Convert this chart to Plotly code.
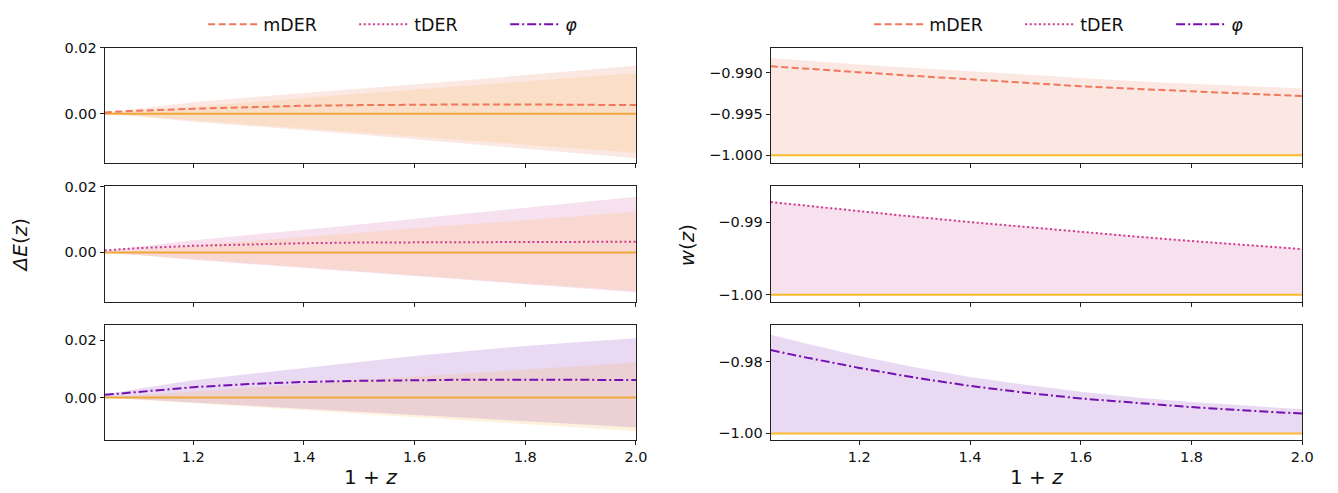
import plotly.graph_objects as go
from plotly.subplots import make_subplots

# ---------------- data ----------------
x_grid = [1.04, 1.1, 1.2, 1.3, 1.4, 1.5, 1.6, 1.7, 1.8, 1.9, 2.0]

# Delta E(z)
lcdm_hi = [0.0, 0.0008, 0.0022, 0.0035, 0.0048, 0.0060, 0.0073, 0.0085, 0.0098, 0.0110, 0.0123]
lcdm_lo = [0.0, -0.0008, -0.0021, -0.0033, -0.0045, -0.0057, -0.0069, -0.0081, -0.0094, -0.0106, -0.0118]
lcdm_dE = [0.0] * 11

dE_mDER = [0.0004, 0.0009, 0.0015, 0.0020, 0.0024, 0.0026, 0.0028, 0.0028, 0.0028, 0.0027, 0.0026]
dE_mDER_hi = [0.0004, 0.0016, 0.0035, 0.0049, 0.0062, 0.0075, 0.0088, 0.0102, 0.0117, 0.0131, 0.0145]
dE_mDER_lo = [0.0, -0.0008, -0.0024, -0.0037, -0.0050, -0.0063, -0.0077, -0.0091, -0.0106, -0.0120, -0.0135]

dE_tDER = [0.0006, 0.0013, 0.0020, 0.0025, 0.0028, 0.0030, 0.0031, 0.0032, 0.0032, 0.0032, 0.0032]
dE_tDER_hi = [0.0005, 0.0017, 0.0037, 0.0053, 0.0068, 0.0085, 0.0102, 0.0119, 0.0136, 0.0152, 0.0169]
dE_tDER_lo = [0.0, -0.0008, -0.0022, -0.0035, -0.0047, -0.0060, -0.0072, -0.0085, -0.0097, -0.0109, -0.0121]

dE_phi = [0.0009, 0.0020, 0.0036, 0.0047, 0.0054, 0.0058, 0.0061, 0.0062, 0.0062, 0.0062, 0.0061]
dE_phi_hi = [0.0010, 0.0030, 0.0060, 0.0082, 0.0102, 0.0124, 0.0145, 0.0163, 0.0180, 0.0194, 0.0207]
dE_phi_lo = [0.0, -0.0006, -0.0018, -0.0029, -0.0040, -0.0051, -0.0062, -0.0073, -0.0084, -0.0094, -0.0105]

# w(z)
w_lcdm = [-1.0] * 11
w_mDER = [-0.98921, -0.98950, -0.98996, -0.99038, -0.99079, -0.99121, -0.99163, -0.99195, -0.99226, -0.99255, -0.99282]
w_mDER_hi = [-0.98821, -0.98852, -0.98898, -0.98941, -0.98983, -0.99026, -0.99068, -0.99101, -0.99133, -0.99162, -0.99190]
w_mDER_lo = [-1.0] * 11

w_tDER = [-0.98720, -0.98769, -0.98848, -0.98924, -0.98997, -0.99067, -0.99134, -0.99198, -0.99259, -0.99317, -0.99370]
w_tDER_hi = [-0.98712, -0.98761, -0.98840, -0.98916, -0.98989, -0.99059, -0.99126, -0.99190, -0.99251, -0.99309, -0.99362]
w_tDER_lo = [-1.0] * 11

w_phi = [-0.97685, -0.97880, -0.98180, -0.98450, -0.98680, -0.98870, -0.99030, -0.99160, -0.99270, -0.99365, -0.99450]
w_phi_hi = [-0.9726, -0.9749, -0.9785, -0.9816, -0.9843, -0.9865, -0.9884, -0.9900, -0.9913, -0.9924, -0.9933]
w_phi_lo = [-1.0] * 11

model_names = ["mDER", "tDER", "<i>φ</i>"]

x_ticks = [1.2, 1.4, 1.6, 1.8, 2.0]
x_ticktext = ["1.2", "1.4", "1.6", "1.8", "2.0"]
y_ticks_left = [[0.0, 0.02], [0.0, 0.02], [0.0, 0.02]]
y_ticktext_left = [["0.00", "0.02"], ["0.00", "0.02"], ["0.00", "0.02"]]
y_ticks_right = [[-1.0, -0.995, -0.99], [-1.0, -0.99], [-1.0, -0.98]]
y_ticktext_right = [["−1.000", "−0.995", "−0.990"], ["−1.00", "−0.99"], ["−1.00", "−0.98"]]

# ---------------- style ----------------
FONT = "DejaVu Sans"
line_colors = ["#F0775A", "#D0388C", "#7410B0"]
fill_colors = ["rgba(240,119,90,0.17)", "rgba(208,56,140,0.15)", "rgba(116,16,176,0.16)"]
dashes = ["7px,3.5px", "2px,2.6px", "9px,3px,2px,3px"]
lcdm_fill = "rgba(245,170,40,0.15)"
lcdm_line_left = "#F0A73A"
lcdm_line_right = "#FBBA2C"

W, H = 1338, 493
left_x = (105.7 / W, 641.7 / W)
right_x = (777.7 / W, 1314.0 / W)
row_px = [(40.3, 157.7), (181.8, 299.0), (322.7, 440.0)]
row_dom = [(1 - b / H, 1 - t / H) for (t, b) in row_px]

y_ranges_left = [[-0.01485, 0.02], [-0.0149, 0.02], [-0.01486, 0.02538]]
y_ranges_right = [[-1.00091, -0.98694], [-1.00095, -0.98505], [-1.00183, -0.96982]]

fig = make_subplots(rows=3, cols=2)

left_data = [(dE_mDER, dE_mDER_hi, dE_mDER_lo), (dE_tDER, dE_tDER_hi, dE_tDER_lo), (dE_phi, dE_phi_hi, dE_phi_lo)]
right_data = [(w_mDER, w_mDER_hi, w_mDER_lo), (w_tDER, w_tDER_hi, w_tDER_lo), (w_phi, w_phi_hi, w_phi_lo)]


def band(hi, lo, color, row, col):
    fig.add_trace(go.Scatter(x=x_grid + x_grid[::-1], y=hi + lo[::-1], fill="toself",
                             fillcolor=color, line=dict(width=0), mode="lines",
                             hoverinfo="skip", showlegend=False), row=row, col=col)


for i in range(3):
    r = i + 1
    # left column
    y, hi, lo = left_data[i]
    band(hi, lo, fill_colors[i], r, 1)
    band(lcdm_hi, lcdm_lo, lcdm_fill, r, 1)
    fig.add_trace(go.Scatter(x=x_grid, y=lcdm_dE, mode="lines",
                             line=dict(color=lcdm_line_left, width=2), showlegend=False), row=r, col=1)
    fig.add_trace(go.Scatter(x=x_grid, y=y, mode="lines", name=model_names[i],
                             line=dict(color=line_colors[i], width=2, dash=dashes[i]),
                             legend="legend", showlegend=True), row=r, col=1)
    # right column
    y, hi, lo = right_data[i]
    band(hi, lo, fill_colors[i], r, 2)
    fig.add_trace(go.Scatter(x=x_grid, y=w_lcdm, mode="lines",
                             line=dict(color=lcdm_line_right, width=2), showlegend=False), row=r, col=2)
    fig.add_trace(go.Scatter(x=x_grid, y=y, mode="lines", name=model_names[i],
                             line=dict(color=line_colors[i], width=2, dash=dashes[i]),
                             legend="legend2", showlegend=True), row=r, col=2)

axis_common = dict(showline=True, linecolor="#222", linewidth=1.1, mirror=True,
                   ticks="outside", ticklen=4, tickwidth=1, tickcolor="#222",
                   showgrid=False, zeroline=False,
                   tickfont=dict(family=FONT, size=14.5, color="#111"))

for i in range(3):
    r = i + 1
    for c in (1, 2):
        idx = (r - 1) * 2 + c
        xs = "xaxis" if idx == 1 else f"xaxis{idx}"
        ys = "yaxis" if idx == 1 else f"yaxis{idx}"
        xdom = left_x if c == 1 else right_x
        fig.layout[xs].update(domain=list(xdom), range=[1.04, 2.0], tickvals=x_ticks,
                              ticktext=x_ticktext if r == 3 else [""] * 5, **axis_common)
        if c == 1:
            fig.layout[ys].update(domain=list(row_dom[i]), range=y_ranges_left[i],
                                  tickvals=y_ticks_left[i], ticktext=y_ticktext_left[i], **axis_common)
        else:
            fig.layout[ys].update(domain=list(row_dom[i]), range=y_ranges_right[i],
                                  tickvals=y_ticks_right[i], ticktext=y_ticktext_right[i], **axis_common)

legend_common = dict(orientation="h", yanchor="middle", xanchor="left",
                     y=1 - 16.7 / H, font=dict(family=FONT, size=17.5, color="#111"),
                     bgcolor="rgba(0,0,0,0)", entrywidth=86, entrywidthmode="pixels",
                     itemwidth=50, tracegroupgap=0)

fig.update_layout(
    width=W, height=H, margin=dict(l=0, r=0, t=0, b=0),
    plot_bgcolor="white", paper_bgcolor="white",
    font=dict(family=FONT, color="#111"),
    legend=dict(x=205 / W, **legend_common),
    legend2=dict(x=877 / W, **legend_common),
)

annos = [
    dict(text="1 + <i>z</i>", x=(left_x[0] + left_x[1]) / 2, y=1 - 478 / H),
    dict(text="1 + <i>z</i>", x=(right_x[0] + right_x[1]) / 2, y=1 - 478 / H),
    dict(text="<i>ΔE</i>(<i>z</i>)", x=20 / W, y=1 - 242 / H, textangle=-90),
    dict(text="<i>w</i>(<i>z</i>)", x=693 / W, y=1 - 242 / H, textangle=-90),
]
for a in annos:
    fig.add_annotation(xref="paper", yref="paper", showarrow=False,
                       xanchor="center", yanchor="middle",
                       font=dict(family=FONT, size=20, color="#111"), **a)

fig.write_html("out.html", config={"displayModeBar": False},
               post_script="document.body.style.margin='0';document.body.style.overflow='hidden';")
